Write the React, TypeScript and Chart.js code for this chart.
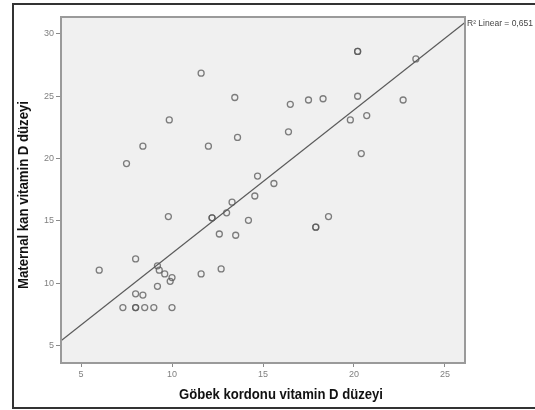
import React, { useEffect, useRef } from "react";
import { Chart, registerables } from "chart.js";

Chart.register(...registerables);

// Göbek kordonu vitamin D düzeyi (x) – Maternal kan vitamin D düzeyi (y)
const cordValues = [
  20.2, 23.4, 11.6, 13.45, 16.5, 17.5, 18.3, 20.2, 22.7, 19.8, 20.7, 9.85, 13.6, 16.4,
  8.4, 12.0, 7.5, 20.4, 14.7, 15.6, 14.55, 13.3, 13.0, 12.2, 14.2, 9.8, 17.9, 18.6,
  12.6, 13.5, 8.0, 6.0, 9.2, 9.3, 9.6, 10.0, 9.9, 11.6, 12.7, 9.2, 8.0, 8.4,
  7.3, 8.0, 8.5, 9.0, 10.0,
  8.0, 17.9, 20.2, 12.2,
];
const maternalValues = [
  28.6, 28.0, 26.85, 24.9, 24.35, 24.7, 24.8, 25.0, 24.7, 23.1, 23.45, 23.1, 21.7, 22.15,
  21.0, 21.0, 19.6, 20.4, 18.6, 18.0, 17.0, 16.5, 15.65, 15.25, 15.05, 15.35, 14.5, 15.35,
  13.95, 13.85, 11.95, 11.05, 11.4, 11.05, 10.75, 10.45, 10.15, 10.75, 11.15, 9.75, 9.15, 9.05,
  8.05, 8.05, 8.05, 8.05, 8.05,
  8.05, 14.5, 28.6, 15.25,
];

const xTicks = [5, 10, 15, 20, 25];
const yTicks = [5, 10, 15, 20, 25, 30];
const xRange = [3.9, 26.1];
const yRange = [3.6, 31.36];

const fitIntercept = 0.9;
const fitSlope = 1.15;
const fitLabel = "R² Linear = 0,651";

const xTitle = "Göbek kordonu vitamin D düzeyi";
const yTitle = "Maternal kan vitamin D düzeyi";

export default function App() {
  const ref = useRef<HTMLCanvasElement | null>(null);

  useEffect(() => {
    document.body.style.margin = "0";
    const canvas = ref.current;
    if (!canvas) return;

    const points = cordValues.map((x, i) => ({ x, y: maternalValues[i] }));
    const fitLine = [
      { x: xRange[0], y: fitIntercept + fitSlope * xRange[0] },
      { x: xRange[1], y: fitIntercept + fitSlope * xRange[1] },
    ];

    const framePlugin = {
      id: "frame",
      beforeDraw(chart: any) {
        const { ctx, chartArea } = chart;
        ctx.save();
        ctx.fillStyle = "#ffffff";
        ctx.fillRect(0, 0, chart.width, chart.height);
        ctx.strokeStyle = "#333333";
        ctx.lineWidth = 2;
        ctx.strokeRect(13, 4, 560, 404);
        ctx.fillStyle = "#f0f0f0";
        ctx.fillRect(chartArea.left, chartArea.top, chartArea.right - chartArea.left, chartArea.bottom - chartArea.top);
        ctx.restore();
      },
      afterDraw(chart: any) {
        const { ctx, chartArea } = chart;
        ctx.save();
        ctx.strokeStyle = "#9a9a9a";
        ctx.lineWidth = 2;
        ctx.strokeRect(chartArea.left, chartArea.top, chartArea.right - chartArea.left, chartArea.bottom - chartArea.top);

        ctx.fillStyle = "#111111";
        ctx.font = "bold 14px 'Liberation Sans', Arial, sans-serif";
        ctx.textAlign = "center";
        ctx.textBaseline = "middle";
        ctx.fillText(xTitle, 281, 395, 204);

        ctx.translate(24, 195);
        ctx.rotate(-Math.PI / 2);
        ctx.fillText(yTitle, 0, 0, 188);
        ctx.restore();

        ctx.save();
        ctx.fillStyle = "#444444";
        ctx.font = "8.5px 'Liberation Sans', Arial, sans-serif";
        ctx.textAlign = "left";
        ctx.textBaseline = "middle";
        ctx.fillText(fitLabel, chartArea.right + 2, 24, 68);
        ctx.restore();
      },
    };

    const chart = new Chart(canvas, {
      type: "scatter",
      data: {
        datasets: [
          {
            type: "line",
            data: fitLine,
            borderColor: "#5a5a5a",
            borderWidth: 1.3,
            pointRadius: 0,
            fill: false,
          } as any,
          {
            data: points,
            pointRadius: 3,
            pointBorderWidth: 1.3,
            pointBackgroundColor: "rgba(0,0,0,0)",
            pointBorderColor: "rgba(85,85,85,0.75)",
          },
        ],
      },
      options: {
        animation: false,
        responsive: false,
        devicePixelRatio: 1,
        layout: { padding: { left: 0, top: 17, right: 70, bottom: 0 } },
        plugins: { legend: { display: false }, tooltip: { enabled: false } },
        scales: {
          x: {
            type: "linear",
            min: xRange[0],
            max: xRange[1],
            afterBuildTicks: (s: any) => {
              s.ticks = xTicks.map((v) => ({ value: v }));
            },
            afterFit: (s: any) => {
              s.height = 47;
            },
            grid: { drawOnChartArea: false, tickLength: 4, tickColor: "#8a8a8a", lineWidth: 1 },
            border: { display: false },
            ticks: {
              padding: 2,
              color: "#808080",
              font: { size: 9, family: "'Liberation Sans', Arial, sans-serif" },
              maxRotation: 0,
            },
          },
          y: {
            type: "linear",
            min: yRange[0],
            max: yRange[1],
            afterBuildTicks: (s: any) => {
              s.ticks = yTicks.map((v) => ({ value: v }));
            },
            afterFit: (s: any) => {
              s.width = 61;
            },
            grid: { drawOnChartArea: false, tickLength: 5, tickColor: "#8a8a8a", lineWidth: 1 },
            border: { display: false },
            ticks: {
              padding: 2,
              color: "#808080",
              font: { size: 9, family: "'Liberation Sans', Arial, sans-serif" },
            },
          },
        },
      },
      plugins: [framePlugin],
    });

    return () => chart.destroy();
  }, []);

  return (
    <div style={{ position: "absolute", left: 0, top: 0, width: 535, height: 410 }}>
      <canvas ref={ref} width={535} height={410} style={{ width: 535, height: 410, display: "block" }} />
    </div>
  );
}
